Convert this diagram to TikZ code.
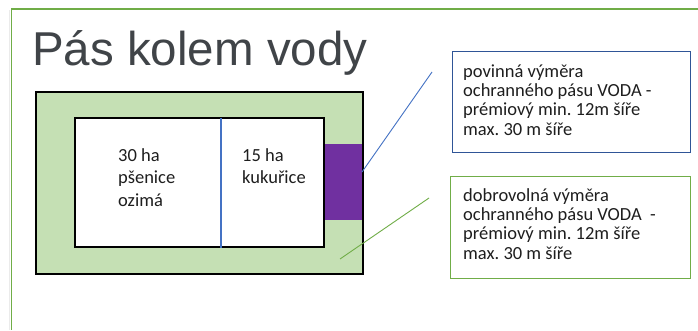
\documentclass[tikz,border=0pt]{standalone}
\usepackage{fontspec}
\setmainfont{Carlito}
\newfontfamily\titlefont{Liberation Sans}
\frenchspacing
\definecolor{framegreen}{HTML}{70AD47}
\definecolor{fieldgreen}{HTML}{C5E0B4}
\definecolor{stripviolet}{HTML}{7030A0}
\definecolor{lineblue}{HTML}{4472C4}
\definecolor{boxblue}{HTML}{2F5597}
\definecolor{titlegray}{HTML}{404448}
\definecolor{txt}{HTML}{1E1E1E}
\begin{document}
\begin{tikzpicture}[x=1pt,y=-1pt,
  area/.style={draw=black, line width=1.6pt, anchor=north west, inner sep=0pt, outer sep=0pt},
  infobox/.style={line width=1.1pt, anchor=north west, inner sep=0pt, fill=white},
  boxtext/.style={anchor=base west, inner sep=0pt, align=left, text=txt,
     font=\frenchspacing\fontsize{18.5}{19.3}\selectfont},
  fieldtext/.style={anchor=base west, inner sep=0pt, align=left, text=txt,
     font=\fontsize{18.5}{22.5}\selectfont}]
\useasboundingbox (0,0) rectangle (698,330);
\fill[white] (0,0) rectangle (698,330);
% slide frame
\draw[black!8, line width=1pt] (9.5,10) -- (9.5,330);
\draw[framegreen, line width=1.6pt] (698,9) -- (11.5,9) -- (11.5,330);
% title
\node[anchor=base west, inner sep=0pt, text=titlegray,
      font=\titlefont\fontsize{47.5}{47.5}\selectfont] (title) at (32,65) {Pás kolem vody};
% fields
\node[area, fill=fieldgreen, minimum width=327pt, minimum height=182pt] (outer) at (36,92) {};
\node[area, fill=white, minimum width=249pt, minimum height=129pt] (inner) at (75,118) {};
\fill[stripviolet] (325,144) rectangle (362,220);
\node[inner sep=0pt, outer sep=0pt, minimum width=38pt, minimum height=76pt, anchor=north west] (strip) at (324.5,144) {};
\draw[black, line width=1.6pt] (inner.north east) -- (inner.south east);
\draw[black, line width=1.6pt] (outer.north east) -- (outer.south east);
\coordinate (divtop) at (221,118);
\coordinate (divbot) at (221,248);
\draw[lineblue, line width=1.1pt] (divtop) -- (divbot);
% (base anchor of a multi-line node = baseline of its last line)
\node[fieldtext] (wheat) at (118,206) {30 ha\\pšenice\\ozimá};
\node[fieldtext] (corn) at (242,183.5) {15 ha\\kukuřice};
% callout boxes
\node[infobox, draw=boxblue, minimum width=238pt, minimum height=101pt] (box1) at (452,51) {};
\node[boxtext] (text1) at (463,135) {povinná výměra\\ochranného pásu VODA -\\prémiový min. 12m šíře\\max. 30 m šíře};
\node[infobox, draw=framegreen, minimum width=240pt, minimum height=102pt] (box2) at (450,176) {};
\node[boxtext] (text2) at (463,259) {dobrovolná výměra\\ochranného pásu VODA\ \ -\\prémiový min. 12m šíře\\max. 30 m šíře};
% leader lines
\coordinate (c1a) at (362,172);
\coordinate (c1b) at (432,72);
\coordinate (c2a) at (340,259);
\coordinate (c2b) at (429,198);
\draw[lineblue, line width=0.9pt] (c1a) -- (c1b);
\draw[framegreen, line width=0.9pt] (c2a) -- (c2b);
\end{tikzpicture}
\end{document}
